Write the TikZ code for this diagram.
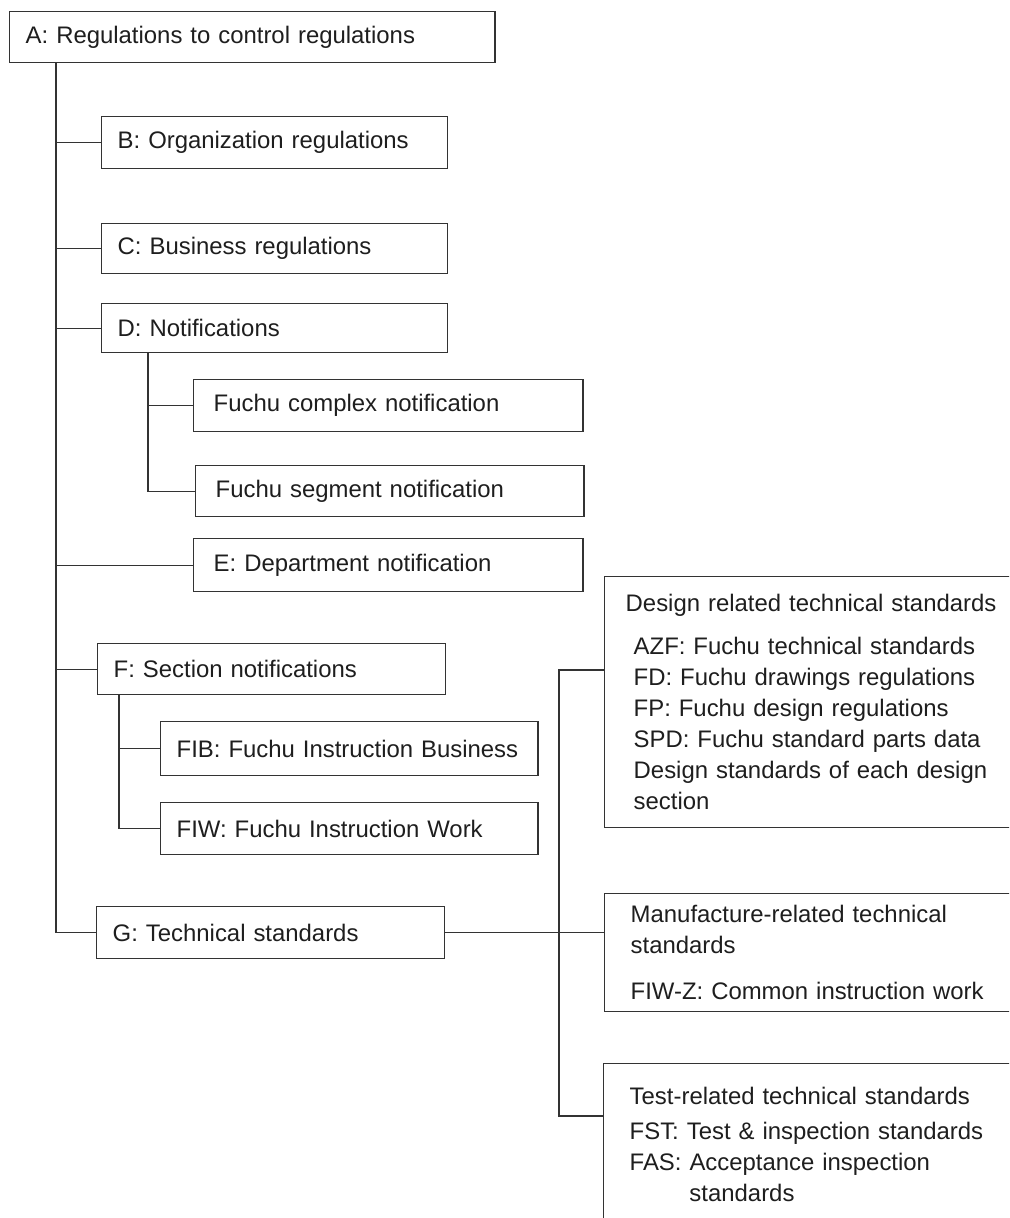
\documentclass[tikz,border=0pt]{standalone}
\usepackage{fontspec}
\setmainfont{Liberation Sans}

\definecolor{linegray}{HTML}{333333}
\definecolor{textgray}{HTML}{1E1E1E}

\tikzset{
  regbox/.style={draw=linegray, line width=1pt, anchor=north west, align=left,
    inner xsep=0.4cm, inner ysep=0pt, text=textgray,
    font=\fontsize{17}{22}\selectfont},
  wire/.style={draw=linegray, line width=1pt}
}

\begin{document}
\begin{tikzpicture}[x=0.025cm, y=-0.025cm]
  \useasboundingbox (0,0) rectangle (1009,1218);
  \clip (0,0) rectangle (1009,1218);
  \fill[white] (0,0) rectangle (1009,1218);

  % left column
  \node[regbox, text width=11.325cm, minimum height=1.275cm] (A) at (9,11) {A: Regulations to control regulations};
  \node[regbox, text width=7.85cm, minimum height=1.3cm] (B) at (101,116) {B: Organization regulations};
  \node[regbox, text width=7.85cm, minimum height=1.25cm] (C) at (101,223) {C: Business regulations};
  \node[regbox, text width=7.85cm, minimum height=1.225cm] (D) at (101,303) {D: Notifications};
  \node[regbox, text width=8.725cm, minimum height=1.3cm, inner xsep=0.5cm] (Fcx) at (193,379) {Fuchu complex notification};
  \node[regbox, text width=8.7cm, minimum height=1.275cm, inner xsep=0.5cm] (Fsg) at (195,465) {Fuchu segment notification};
  \node[regbox, text width=8.725cm, minimum height=1.325cm, inner xsep=0.5cm] (E) at (193,538) {E: Department notification};
  \node[regbox, text width=7.9cm, minimum height=1.275cm] (F) at (97,643) {F: Section notifications};
  \node[regbox, text width=8.625cm, minimum height=1.35cm] (FIB) at (160,721) {FIB: Fuchu Instruction Business};
  \node[regbox, text width=8.625cm, minimum height=1.3cm] (FIW) at (160,802) {FIW: Fuchu Instruction Work};
  \node[regbox, text width=7.9cm, minimum height=1.3cm] (G) at (96,906) {G: Technical standards};

  % right column
  \node[regbox, text width=9.85cm, minimum height=6.275cm, inner xsep=0.525cm] (design) at (604,576) {Design related technical standards\\[0.3cm]
    \hspace*{0.2cm}AZF: Fuchu technical standards\\
    \hspace*{0.2cm}FD: Fuchu drawings regulations\\
    \hspace*{0.2cm}FP: Fuchu design regulations\\
    \hspace*{0.2cm}SPD: Fuchu standard parts data\\
    \hspace*{0.2cm}Design standards of each design\\
    \hspace*{0.2cm}section};
  \node[regbox, text width=9.6cm, minimum height=2.95cm, inner xsep=0.65cm] (manuf) at (604,893) {Manufacture-related technical\\
    standards\\[0.375cm]
    FIW-Z: Common instruction work};
  \node[regbox, text width=9.6cm, minimum height=4.05cm, inner xsep=0.65cm] (test) at (603,1063) {Test-related technical standards\\[0.1cm]
    FST: Test \& inspection standards\\
    FAS: Acceptance inspection\\
    \phantom{FAS: }standards};

  % connectors
  \coordinate (trunk) at (56,62);
  \draw[wire] (trunk) |- (G.west);
  \foreach \n in {B,C,D,E,F}
    \draw[wire] (trunk |- \n.west) -- (\n.west);

  \coordinate (dsub) at (148,352);
  \draw[wire] (dsub) |- (Fsg.west);
  \draw[wire] (dsub |- Fcx.west) -- (Fcx.west);

  \coordinate (fsub) at (119,694);
  \draw[wire] (fsub) |- (FIW.west);
  \draw[wire] (fsub |- FIB.west) -- (FIB.west);

  \draw[wire] (G.east) -- (G.east -| manuf.west);
  \coordinate (djoin) at (559,670);
  \coordinate (tjoin) at (559,1116);
  \draw[wire] (design.west |- djoin) -- (djoin) -- (tjoin) -- (test.west |- tjoin);
\end{tikzpicture}
\end{document}
